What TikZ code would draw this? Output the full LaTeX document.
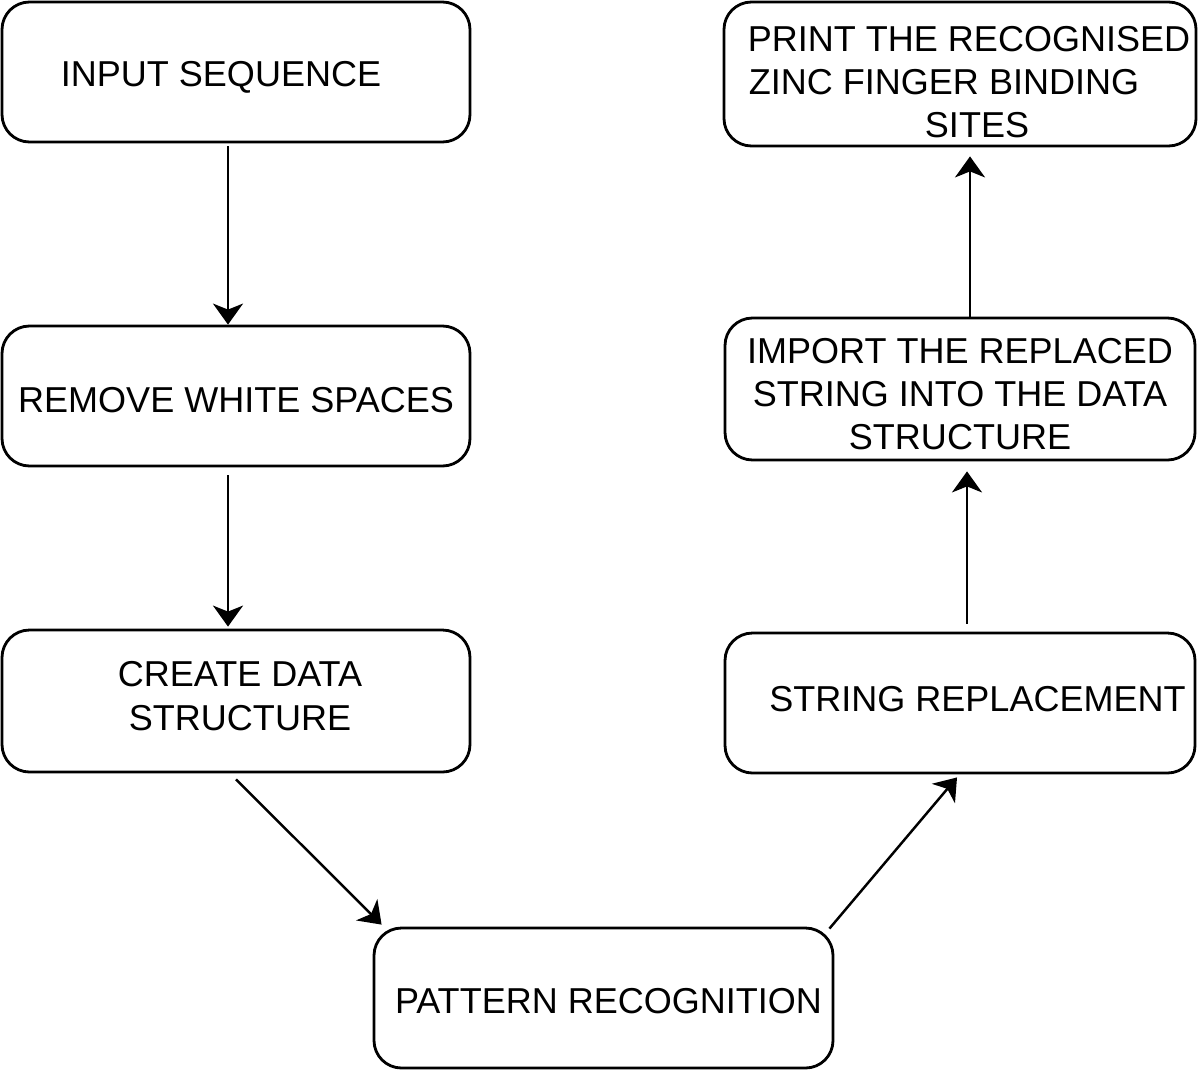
\documentclass[tikz,border=0pt]{standalone}
\usepackage{fontspec}
\setmainfont{Liberation Sans}
\usetikzlibrary{arrows.meta}
\newcommand{\lineshift}[2]{\raisebox{#1}[\height][\depth]{#2}}

\begin{document}
\begin{tikzpicture}[
  stepbox/.style={draw,line width=1.6pt,rounded corners=0.55cm,minimum width=9.36cm,
    minimum height=2.8cm,align=center,font=\fontsize{20.5pt}{24.5pt}\selectfont},
  flow/.style={-{Stealth[length=0.42cm,width=0.6cm,inset=0.12cm]},line width=1.4pt},
]
\useasboundingbox (0,0) rectangle (24,-21.44);
\node[stepbox] (input) at (4.72,-1.44) {\lineshift{-2.8pt}{\hspace*{-0.6cm}INPUT SEQUENCE}};
\node[stepbox] (remove) at (4.72,-7.92) {\lineshift{-2.3pt}{REMOVE WHITE SPACES}};
\node[stepbox,minimum height=2.84cm] (create) at (4.72,-14.02)
  {\lineshift{2.8pt}{\hspace*{0.16cm}CREATE DATA}\\\lineshift{2.8pt}{\hspace*{0.16cm}STRUCTURE}};
\node[stepbox,minimum width=9.18cm] (pattern) at (12.07,-19.96)
  {\lineshift{-1.7pt}{\hspace*{0.2cm}PATTERN RECOGNITION}};
\node[stepbox,minimum width=9.4cm] (replace) at (19.2,-14.06)
  {\lineshift{2.3pt}{\hspace*{0.7cm}STRING REPLACEMENT}};
\node[stepbox,minimum width=9.4cm,minimum height=2.84cm] (import) at (19.2,-7.78)
  {\lineshift{-2.8pt}{IMPORT THE REPLACED}\\\lineshift{-2.8pt}{STRING INTO THE DATA}\\\lineshift{-2.8pt}{STRUCTURE}};
\node[stepbox,minimum width=9.4cm,minimum height=2.88cm] (print) at (19.2,-1.48)
  {\lineshift{-4.5pt}{\hspace*{0.36cm}PRINT THE RECOGNISED}\\
   \lineshift{-4.5pt}{ZINC FINGER BINDING\hspace*{0.64cm}}\\
   \lineshift{-4.5pt}{\hspace*{0.68cm}SITES}};

\draw[flow] ([xshift=-0.16cm,yshift=-0.06cm]input.south) -- ([xshift=-0.16cm]remove.north);
\draw[flow] ([xshift=-0.16cm,yshift=-0.16cm]remove.south) -- ([xshift=-0.16cm,yshift=0.04cm]create.north);
\draw[flow] ([yshift=-0.12cm]create.south) -- ([xshift=0.18cm,yshift=0.04cm]pattern.north west);
\draw[flow] ([xshift=-0.1cm,yshift=-0.04cm]pattern.north east) -- ([xshift=-0.06cm,yshift=-0.06cm]replace.south);
\draw[flow] ([xshift=0.14cm,yshift=0.16cm]replace.north) -- ([xshift=0.14cm,yshift=-0.2cm]import.south);
\draw[flow] ([xshift=0.2cm,yshift=-0.04cm]import.north) -- ([xshift=0.2cm,yshift=-0.18cm]print.south);
\end{tikzpicture}
\end{document}
